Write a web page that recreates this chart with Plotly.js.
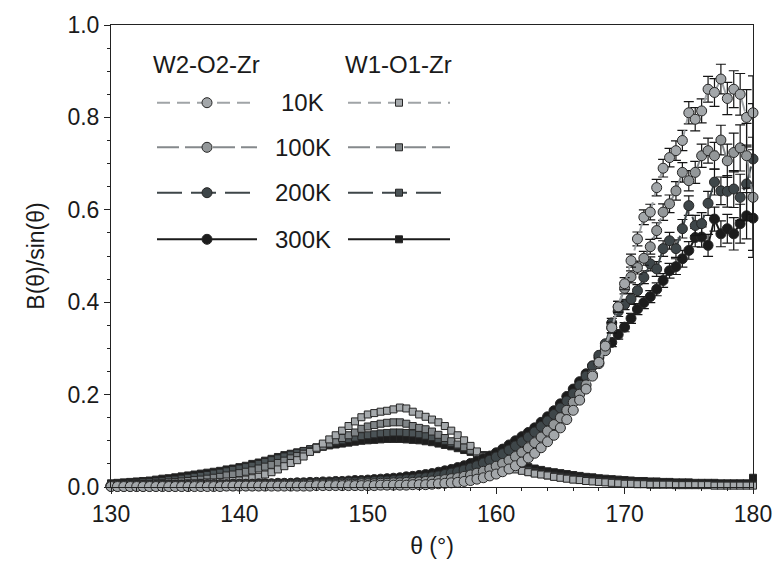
<!DOCTYPE html>
<html>
<head>
<meta charset="utf-8">
<script src="https://cdn.plot.ly/plotly-3.0.1.min.js"></script>
<style>html,body{margin:0;padding:0;background:#fff;}#chart{width:775px;height:572px;}</style>
</head>
<body>
<div id="chart"></div>
<script>
// theta (degrees)
const theta = [
130,130.5,131,131.5,132,132.5,133,133.5,134,134.5,
135,135.5,136,136.5,137,137.5,138,138.5,139,139.5,
140,140.5,141,141.5,142,142.5,143,143.5,144,144.5,
145,145.5,146,146.5,147,147.5,148,148.5,149,149.5,
150,150.5,151,151.5,152,152.5,153,153.5,154,154.5,
155,155.5,156,156.5,157,157.5,158,158.5,159,159.5,
160,160.5,161,161.5,162,162.5,163,163.5,164,164.5,
165,165.5,166,166.5,167,167.5,168,168.5,169,169.5,
170,170.5,171,171.5,172,172.5,173,173.5,174,174.5,
175,175.5,176,176.5,177,177.5,178,178.5,179,179.5,
180];

// W1-O1-Zr (squares)
const w1_10K = [
0.003,0.003,0.003,0.004,0.004,0.004,0.005,0.005,0.006,0.006,
0.007,0.007,0.008,0.008,0.009,0.010,0.010,0.011,0.012,0.013,
0.014,0.016,0.019,0.022,0.027,0.032,0.038,0.045,0.052,0.058,
0.066,0.076,0.085,0.094,0.103,0.112,0.122,0.132,0.142,0.151,
0.157,0.160,0.163,0.165,0.168,0.172,0.170,0.163,0.157,0.152,
0.146,0.140,0.132,0.122,0.112,0.101,0.089,0.077,0.066,0.057,
0.050,0.045,0.041,0.038,0.035,0.032,0.029,0.027,0.025,0.022,
0.020,0.018,0.016,0.015,0.013,0.012,0.011,0.010,0.009,0.008,
0.007,0.007,0.006,0.006,0.005,0.005,0.005,0.005,0.004,0.004,
0.004,0.004,0.004,0.004,0.003,0.003,0.003,0.003,0.003,0.003,
0.003];
const w1_100K = [
0.004,0.004,0.005,0.005,0.006,0.006,0.007,0.008,0.009,0.010,
0.011,0.012,0.013,0.015,0.016,0.018,0.020,0.022,0.025,0.027,
0.030,0.033,0.036,0.040,0.044,0.048,0.052,0.057,0.062,0.067,
0.072,0.077,0.082,0.088,0.094,0.100,0.106,0.112,0.118,0.126,
0.131,0.134,0.137,0.139,0.140,0.140,0.137,0.132,0.128,0.125,
0.120,0.113,0.106,0.099,0.092,0.086,0.079,0.072,0.066,0.060,
0.054,0.049,0.044,0.040,0.037,0.033,0.030,0.028,0.025,0.023,
0.021,0.019,0.017,0.016,0.014,0.013,0.012,0.011,0.010,0.009,
0.008,0.008,0.007,0.007,0.006,0.006,0.006,0.006,0.005,0.005,
0.005,0.005,0.005,0.005,0.004,0.004,0.004,0.004,0.004,0.004,
0.004];
const w1_200K = [
0.006,0.007,0.007,0.008,0.009,0.010,0.011,0.012,0.013,0.015,
0.016,0.018,0.020,0.022,0.024,0.026,0.029,0.031,0.034,0.037,
0.040,0.043,0.046,0.050,0.054,0.058,0.062,0.066,0.070,0.074,
0.078,0.082,0.086,0.090,0.094,0.098,0.101,0.104,0.107,0.110,
0.112,0.114,0.116,0.117,0.118,0.118,0.117,0.116,0.114,0.111,
0.108,0.104,0.100,0.095,0.090,0.085,0.080,0.075,0.069,0.063,
0.058,0.053,0.048,0.044,0.040,0.036,0.033,0.030,0.027,0.025,
0.023,0.021,0.019,0.018,0.016,0.015,0.014,0.013,0.012,0.011,
0.010,0.010,0.009,0.009,0.008,0.008,0.007,0.007,0.007,0.006,
0.006,0.006,0.006,0.005,0.005,0.005,0.005,0.005,0.005,0.005,
0.005];
const w1_300K = [
0.008,0.009,0.010,0.011,0.012,0.013,0.014,0.016,0.018,0.019,
0.021,0.023,0.025,0.027,0.029,0.031,0.033,0.035,0.038,0.040,
0.043,0.046,0.050,0.053,0.057,0.061,0.065,0.069,0.072,0.075,
0.078,0.081,0.084,0.087,0.090,0.092,0.094,0.096,0.098,0.100,
0.101,0.102,0.103,0.104,0.104,0.104,0.103,0.102,0.101,0.099,
0.097,0.094,0.091,0.088,0.084,0.080,0.076,0.072,0.068,0.064,
0.060,0.056,0.052,0.049,0.046,0.043,0.040,0.037,0.034,0.032,
0.030,0.028,0.026,0.024,0.022,0.021,0.019,0.018,0.017,0.016,
0.015,0.014,0.013,0.013,0.012,0.012,0.011,0.011,0.010,0.010,
0.010,0.009,0.009,0.009,0.009,0.008,0.008,0.008,0.008,0.008,
0.020];

// W2-O2-Zr (circles)
const w2_10K = [
0.001,0.001,0.001,0.001,0.001,0.001,0.001,0.001,0.001,0.001,
0.001,0.001,0.001,0.001,0.001,0.001,0.001,0.001,0.002,0.002,
0.002,0.002,0.002,0.002,0.002,0.002,0.002,0.002,0.002,0.002,
0.002,0.002,0.003,0.003,0.003,0.003,0.003,0.003,0.003,0.003,
0.003,0.003,0.004,0.004,0.004,0.004,0.004,0.005,0.005,0.005,
0.006,0.007,0.008,0.009,0.010,0.012,0.014,0.017,0.020,0.024,
0.028,0.033,0.039,0.046,0.054,0.063,0.073,0.085,0.098,0.112,
0.128,0.146,0.166,0.188,0.212,0.240,0.270,0.305,0.345,0.390,
0.440,0.490,0.537,0.584,0.595,0.648,0.690,0.713,0.728,0.750,
0.810,0.796,0.814,0.861,0.854,0.883,0.841,0.861,0.850,0.800,
0.810];
const w2_100K = [
0.002,0.002,0.002,0.002,0.002,0.002,0.002,0.002,0.002,0.002,
0.002,0.002,0.002,0.003,0.003,0.003,0.003,0.003,0.003,0.003,
0.003,0.003,0.003,0.003,0.004,0.004,0.004,0.004,0.004,0.004,
0.004,0.005,0.005,0.005,0.005,0.005,0.006,0.006,0.006,0.007,
0.007,0.007,0.008,0.008,0.009,0.009,0.010,0.010,0.011,0.012,
0.013,0.014,0.016,0.018,0.020,0.023,0.026,0.030,0.034,0.039,
0.045,0.051,0.058,0.066,0.075,0.085,0.096,0.108,0.121,0.135,
0.150,0.166,0.183,0.201,0.221,0.243,0.267,0.295,0.345,0.390,
0.430,0.455,0.475,0.495,0.520,0.555,0.595,0.613,0.641,0.681,
0.663,0.681,0.717,0.728,0.717,0.751,0.706,0.724,0.734,0.717,
0.627];
const w2_200K = [
0.002,0.002,0.002,0.002,0.002,0.002,0.003,0.003,0.003,0.003,
0.003,0.003,0.003,0.003,0.004,0.004,0.004,0.004,0.004,0.004,
0.005,0.005,0.005,0.005,0.005,0.006,0.006,0.006,0.006,0.007,
0.007,0.007,0.008,0.008,0.008,0.009,0.009,0.010,0.010,0.011,
0.011,0.012,0.013,0.013,0.014,0.015,0.016,0.017,0.019,0.020,
0.022,0.024,0.027,0.030,0.033,0.037,0.041,0.046,0.052,0.058,
0.065,0.072,0.080,0.089,0.098,0.108,0.119,0.131,0.143,0.157,
0.171,0.186,0.202,0.220,0.240,0.262,0.285,0.310,0.355,0.380,
0.395,0.407,0.425,0.454,0.483,0.472,0.516,0.533,0.516,0.559,
0.609,0.566,0.570,0.614,0.660,0.641,0.640,0.645,0.627,0.656,
0.710];
const w2_300K = [
0.003,0.003,0.003,0.003,0.003,0.003,0.003,0.003,0.004,0.004,
0.004,0.004,0.004,0.004,0.005,0.005,0.005,0.005,0.005,0.006,
0.006,0.006,0.006,0.007,0.007,0.007,0.008,0.008,0.008,0.009,
0.009,0.010,0.010,0.011,0.011,0.012,0.012,0.013,0.014,0.014,
0.015,0.016,0.017,0.018,0.019,0.020,0.022,0.023,0.025,0.027,
0.029,0.032,0.035,0.038,0.042,0.046,0.051,0.056,0.061,0.067,
0.074,0.082,0.091,0.100,0.109,0.118,0.128,0.140,0.152,0.165,
0.180,0.196,0.212,0.228,0.245,0.262,0.280,0.297,0.313,0.330,
0.346,0.365,0.385,0.399,0.412,0.428,0.447,0.468,0.477,0.494,
0.512,0.540,0.541,0.523,0.580,0.548,0.559,0.548,0.570,0.587,
0.582];

// error bars of W2-O2-Zr, for theta = 169 ... 180
const errStart = 169;
const err_10K  = [0.012,0.012,0.013,0.014,0.015,0.016,0.017,0.018,0.019,0.020,0.021,0.022,0.024,0.025,0.026,0.028,0.030,0.032,0.035,0.040,0.045,0.060,0.080];
const err_100K = [0.011,0.012,0.012,0.013,0.014,0.015,0.016,0.017,0.018,0.019,0.020,0.021,0.022,0.024,0.025,0.027,0.029,0.032,0.036,0.042,0.050,0.070,0.130];
const err_200K = [0.010,0.011,0.011,0.012,0.013,0.014,0.015,0.016,0.017,0.018,0.019,0.020,0.021,0.022,0.024,0.026,0.028,0.030,0.034,0.040,0.050,0.080,0.120];
const err_300K = [0.009,0.010,0.010,0.011,0.012,0.013,0.013,0.014,0.015,0.016,0.017,0.018,0.019,0.020,0.022,0.024,0.026,0.028,0.031,0.035,0.042,0.050,0.070];

const temps = ['10K','100K','200K','300K'];
const headers = ['W2-O2-Zr','W1-O1-Zr'];

const styles = {
  '10K':  {fillC:'#a3a7aa', fillS:'#a5a9ac', line:'#a0a4a7', dash:'13px,7px'},
  '100K': {fillC:'#939799', fillS:'#7f8487', line:'#85898c', dash:'22px,6px'},
  '200K': {fillC:'#3e4649', fillS:'#4b5356', line:'#3e4649', dash:'25px,9px'},
  '300K': {fillC:'#1c1c1c', fillS:'#1e1e1e', line:'#1a1a1a', dash:'solid'}
};
const w1 = {'10K':w1_10K,'100K':w1_100K,'200K':w1_200K,'300K':w1_300K};
const w2 = {'10K':w2_10K,'100K':w2_100K,'200K':w2_200K,'300K':w2_300K};
const errs = {'10K':err_10K,'100K':err_100K,'200K':err_200K,'300K':err_300K};

function errArray(e){
  return theta.map(t => t >= errStart ? e[Math.round((t-errStart)*2)] : 0);
}

const traces = [];
const order = ['300K','200K','100K','10K'];
order.forEach(T => {
  const s = styles[T];
  traces.push({
    x: theta, y: w1[T], type:'scatter', mode:'lines+markers', cliponaxis:false,
    line:{color:s.line, width:2, dash:s.dash},
    marker:{symbol:'square', size:7, color:s.fillS, line:{color:'#262626', width:1}},
    showlegend:false, hoverinfo:'skip'
  });
});
order.forEach(T => {
  const s = styles[T];
  traces.push({
    x: theta, y: w2[T], type:'scatter', mode:'lines+markers', cliponaxis:false,
    line:{color:s.line, width:2, dash:s.dash},
    marker:{symbol:'circle', size:10, color:s.fillC, line:{color:'#262626', width:1}},
    error_y:{type:'data', array:errArray(errs[T]), visible:true, color:'#151515', thickness:1.2, width:5},
    showlegend:false, hoverinfo:'skip'
  });
});

// custom legend on an overlay axis measured in pixels of the plot area
const rowY = [102.7, 147.3, 192.7, 239.3];
const annotations = [];
temps.forEach((T, k) => {
  const s = styles[T];
  const yy = rowY[k];
  traces.push({x:[157,257], y:[yy,yy], xaxis:'x2', yaxis:'y2', type:'scatter', mode:'lines',
    line:{color:s.line, width:2, dash:s.dash}, showlegend:false, hoverinfo:'skip'});
  traces.push({x:[207], y:[yy], xaxis:'x2', yaxis:'y2', type:'scatter', mode:'markers',
    marker:{symbol:'circle', size:10, color:s.fillC, line:{color:'#262626', width:1}}, showlegend:false, hoverinfo:'skip'});
  traces.push({x:[348,450], y:[yy,yy], xaxis:'x2', yaxis:'y2', type:'scatter', mode:'lines',
    line:{color:s.line, width:2, dash:s.dash}, showlegend:false, hoverinfo:'skip'});
  traces.push({x:[399], y:[yy], xaxis:'x2', yaxis:'y2', type:'scatter', mode:'markers',
    marker:{symbol:'square', size:7, color:s.fillS, line:{color:'#262626', width:1}}, showlegend:false, hoverinfo:'skip'});
  annotations.push({x:302.5, y:yy, xref:'x2', yref:'y2', text:T, showarrow:false,
    xanchor:'center', yanchor:'middle', font:{family:'Liberation Sans, Arial, sans-serif', size:24, color:'#1a1a1a'}});
});
annotations.push({x:206.7, y:64, xref:'x2', yref:'y2', text:headers[0], showarrow:false,
  xanchor:'center', yanchor:'middle', font:{family:'Liberation Sans, Arial, sans-serif', size:24, color:'#1a1a1a'}});
annotations.push({x:398, y:64, xref:'x2', yref:'y2', text:headers[1], showarrow:false,
  xanchor:'center', yanchor:'middle', font:{family:'Liberation Sans, Arial, sans-serif', size:24, color:'#1a1a1a'}});

const font = {family:'Liberation Sans, Arial, sans-serif', size:23, color:'#1a1a1a'};
const layout = {
  width:775, height:572,
  margin:{l:111, r:22, t:25, b:85},
  paper_bgcolor:'#fff', plot_bgcolor:'#fff',
  font: font,
  showlegend:false,
  xaxis:{range:[130,180], dtick:10, tick0:130, ticks:'outside', ticklen:6, tickwidth:1, tickcolor:'#222',
    showline:true, linecolor:'#222', linewidth:1, mirror:true, showgrid:false, zeroline:false,
    minor:{dtick:2, ticks:'outside', ticklen:3, tickcolor:'#222', showgrid:false},
    tickfont:font, title:{text:'θ (°)', font:font, standoff:12}},
  yaxis:{range:[0,1], dtick:0.2, tickformat:'.1f', ticks:'outside', ticklen:6, tickwidth:1, tickcolor:'#222',
    showline:true, linecolor:'#222', linewidth:1, mirror:true, showgrid:false, zeroline:false,
    minor:{dtick:0.05, ticks:'outside', ticklen:3, tickcolor:'#222', showgrid:false},
    tickfont:font, title:{text:'B(θ)/sin(θ)', font:font, standoff:16}},
  xaxis2:{overlaying:'x', anchor:'y2', range:[111,753], visible:false, fixedrange:true},
  yaxis2:{overlaying:'y', anchor:'x2', range:[487,25], visible:false, fixedrange:true},
  annotations: annotations
};

Plotly.newPlot('chart', traces, layout, {displayModeBar:false, staticPlot:true});
</script>
</body>
</html>
